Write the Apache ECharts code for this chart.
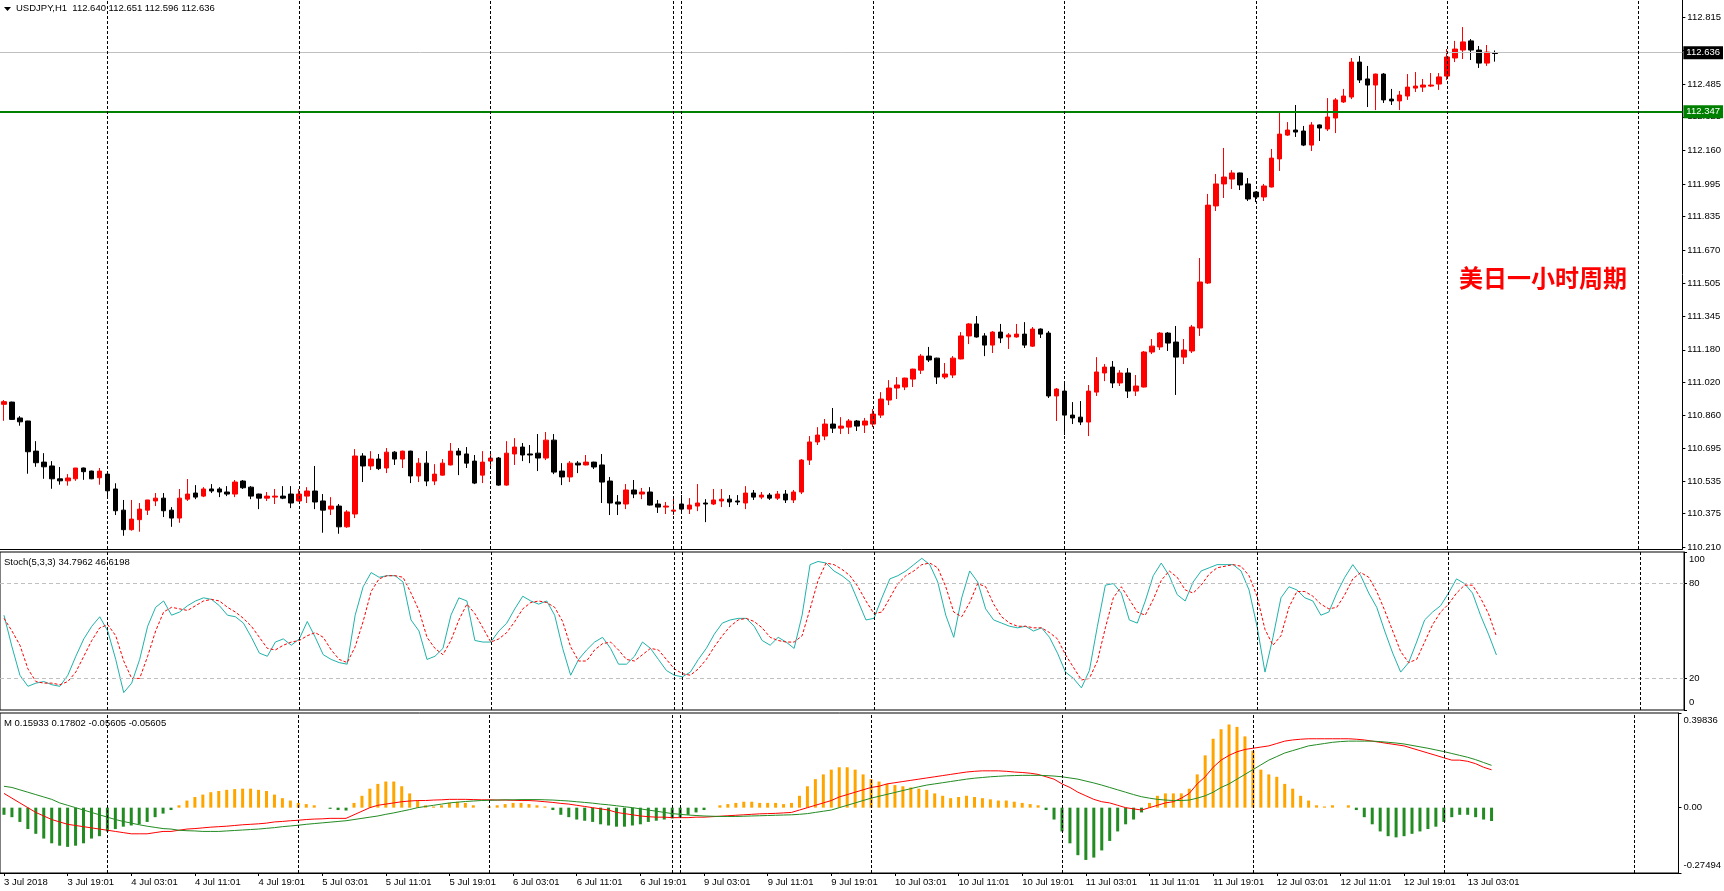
<!DOCTYPE html>
<html>
<head>
<meta charset="utf-8">
<script src="https://cdn.jsdelivr.net/npm/echarts/dist/echarts.min.js"></script>
<style>
html, body { margin: 0; padding: 0; background: #fff; }
#chart { width: 1724px; height: 891px; }
</style>
</head>
<body>
<div id="chart"></div>
<script>
// USDJPY H1, 3 Jul 2018 11:01 .. 13 Jul 2018 04:01 (188 bars)
const timeLabels = ['3 Jul 2018', '3 Jul 19:01', '4 Jul 03:01', '4 Jul 11:01', '4 Jul 19:01', '5 Jul 03:01',
    '5 Jul 11:01', '5 Jul 19:01', '6 Jul 03:01', '6 Jul 11:01', '6 Jul 19:01', '9 Jul 03:01', '9 Jul 11:01',
    '9 Jul 19:01', '10 Jul 03:01', '10 Jul 11:01', '10 Jul 19:01', '11 Jul 03:01', '11 Jul 11:01',
    '11 Jul 19:01', '12 Jul 03:01', '12 Jul 11:01', '12 Jul 19:01', '13 Jul 03:01'];
const labelStep = 8;
const daySeparators = [13, 37, 61, 84, 85, 109, 133, 157, 181, 205];
const slotCount = 211;

const opens = [
    110.912, 110.923, 110.845, 110.830, 110.682, 110.628, 110.609, 110.546, 110.536, 110.546,
    110.599, 110.584, 110.551, 110.569, 110.496, 110.392, 110.296, 110.345, 110.392, 110.437,
    110.451, 110.392, 110.353, 110.446, 110.476, 110.461, 110.496, 110.496, 110.481, 110.471,
    110.535, 110.505, 110.471, 110.451, 110.456, 110.461, 110.471, 110.437, 110.461, 110.486,
    110.437, 110.397, 110.412, 110.310, 110.373, 110.658, 110.609, 110.643, 110.599, 110.677,
    110.643, 110.682, 110.560, 110.623, 110.535, 110.564, 110.614, 110.682, 110.668, 110.633,
    110.564, 110.633, 110.648, 110.515, 110.668, 110.702, 110.668, 110.672, 110.648, 110.736,
    110.584, 110.555, 110.623, 110.614, 110.628, 110.614, 110.535, 110.432, 110.422, 110.491,
    110.471, 110.481, 110.422, 110.407, 110.387, 110.422, 110.397, 110.412, 110.427, 110.422,
    110.437, 110.446, 110.437, 110.427, 110.476, 110.456, 110.466, 110.451, 110.471, 110.442,
    110.481, 110.638, 110.727, 110.756, 110.815, 110.795, 110.800, 110.830, 110.810, 110.815,
    110.859, 110.933, 110.992, 110.997, 111.036, 111.080, 111.149, 111.139, 111.046, 111.056,
    111.135, 111.248, 111.307, 111.248, 111.203, 111.267, 111.243, 111.243, 111.257, 111.198,
    111.282, 111.262, 110.953, 110.977, 110.859, 110.849, 110.825, 110.972, 111.066, 111.095,
    111.017, 111.066, 110.977, 110.997, 111.169, 111.194, 111.262, 111.218, 111.144, 111.174,
    111.287, 111.508, 111.887, 111.995, 112.019, 112.049, 111.995, 111.955, 111.931, 111.980,
    112.118, 112.235, 112.260, 112.255, 112.186, 112.285, 112.265, 112.319, 112.398, 112.422,
    112.594, 112.511, 112.481, 112.535, 112.412, 112.403, 112.427, 112.466, 112.471, 112.476,
    112.486, 112.525, 112.614, 112.653, 112.698, 112.653, 112.589, 112.640
];
const highs = [
    110.933, 110.925, 110.854, 110.831, 110.731, 110.672, 110.633, 110.604, 110.569, 110.599,
    110.601, 110.586, 110.599, 110.581, 110.524, 110.442, 110.442, 110.427, 110.442, 110.476,
    110.476, 110.407, 110.496, 110.545, 110.515, 110.505, 110.520, 110.505, 110.510, 110.540,
    110.540, 110.510, 110.473, 110.481, 110.496, 110.510, 110.510, 110.496, 110.505, 110.609,
    110.471, 110.456, 110.422, 110.392, 110.692, 110.672, 110.682, 110.668, 110.697, 110.682,
    110.684, 110.684, 110.648, 110.682, 110.618, 110.643, 110.722, 110.697, 110.702, 110.663,
    110.682, 110.677, 110.653, 110.731, 110.746, 110.722, 110.712, 110.766, 110.776, 110.766,
    110.623, 110.633, 110.633, 110.663, 110.630, 110.668, 110.555, 110.466, 110.520, 110.540,
    110.501, 110.505, 110.442, 110.432, 110.461, 110.466, 110.451, 110.520, 110.446, 110.496,
    110.496, 110.466, 110.466, 110.510, 110.491, 110.481, 110.476, 110.486, 110.491, 110.491,
    110.643, 110.756, 110.800, 110.840, 110.894, 110.849, 110.840, 110.835, 110.845, 110.889,
    110.972, 111.031, 111.046, 111.043, 111.087, 111.159, 111.194, 111.141, 111.115, 111.149,
    111.267, 111.311, 111.346, 111.262, 111.272, 111.307, 111.262, 111.307, 111.316, 111.292,
    111.285, 111.272, 110.992, 111.017, 110.923, 110.928, 111.007, 111.144, 111.110, 111.125,
    111.080, 111.090, 111.056, 111.174, 111.233, 111.267, 111.267, 111.297, 111.233, 111.302,
    111.631, 111.946, 112.044, 112.172, 112.063, 112.051, 112.024, 111.958, 111.995, 112.167,
    112.349, 112.299, 112.383, 112.280, 112.299, 112.287, 112.417, 112.417, 112.462, 112.614,
    112.624, 112.575, 112.537, 112.540, 112.462, 112.452, 112.535, 112.545, 112.511, 112.540,
    112.540, 112.658, 112.698, 112.766, 112.707, 112.673, 112.678, 112.651
];
const lows = [
    110.831, 110.835, 110.807, 110.571, 110.605, 110.546, 110.497, 110.517, 110.512, 110.536,
    110.541, 110.544, 110.517, 110.461, 110.368, 110.266, 110.291, 110.286, 110.368, 110.412,
    110.358, 110.310, 110.330, 110.437, 110.446, 110.456, 110.476, 110.456, 110.461, 110.456,
    110.496, 110.446, 110.397, 110.437, 110.422, 110.446, 110.402, 110.435, 110.427, 110.397,
    110.281, 110.368, 110.276, 110.305, 110.353, 110.530, 110.589, 110.589, 110.574, 110.614,
    110.599, 110.525, 110.530, 110.510, 110.515, 110.562, 110.612, 110.564, 110.599, 110.520,
    110.525, 110.609, 110.512, 110.512, 110.614, 110.633, 110.623, 110.584, 110.638, 110.569,
    110.515, 110.530, 110.574, 110.612, 110.594, 110.427, 110.368, 110.368, 110.397, 110.451,
    110.446, 110.415, 110.378, 110.373, 110.368, 110.373, 110.373, 110.387, 110.333, 110.417,
    110.407, 110.407, 110.417, 110.397, 110.442, 110.446, 110.442, 110.442, 110.427, 110.427,
    110.471, 110.614, 110.712, 110.736, 110.771, 110.766, 110.766, 110.781, 110.771, 110.800,
    110.845, 110.908, 110.938, 110.982, 110.997, 111.061, 111.120, 111.012, 111.036, 111.041,
    111.133, 111.208, 111.240, 111.149, 111.164, 111.213, 111.184, 111.240, 111.189, 111.194,
    111.238, 110.943, 110.830, 110.761, 110.815, 110.810, 110.756, 110.953, 111.026, 110.992,
    111.002, 110.943, 110.953, 110.995, 111.159, 111.179, 111.174, 110.958, 111.110, 111.164,
    111.248, 111.503, 111.862, 111.926, 111.970, 111.965, 111.911, 111.906, 111.911, 111.978,
    112.059, 112.231, 112.226, 112.181, 112.157, 112.206, 112.255, 112.245, 112.393, 112.412,
    112.491, 112.373, 112.358, 112.393, 112.383, 112.358, 112.408, 112.447, 112.447, 112.471,
    112.457, 112.506, 112.594, 112.609, 112.604, 112.565, 112.575, 112.596
];
const closes = [
    110.925, 110.838, 110.826, 110.679, 110.625, 110.605, 110.546, 110.536, 110.550, 110.599,
    110.581, 110.546, 110.584, 110.487, 110.389, 110.296, 110.348, 110.397, 110.442, 110.451,
    110.389, 110.353, 110.451, 110.471, 110.456, 110.496, 110.486, 110.481, 110.471, 110.530,
    110.502, 110.461, 110.451, 110.461, 110.461, 110.451, 110.427, 110.471, 110.486, 110.432,
    110.392, 110.412, 110.310, 110.383, 110.658, 110.609, 110.643, 110.596, 110.677, 110.643,
    110.682, 110.560, 110.623, 110.535, 110.569, 110.623, 110.682, 110.663, 110.623, 110.525,
    110.628, 110.648, 110.515, 110.672, 110.702, 110.663, 110.663, 110.648, 110.736, 110.579,
    110.555, 110.623, 110.614, 110.628, 110.604, 110.530, 110.427, 110.422, 110.491, 110.471,
    110.481, 110.417, 110.407, 110.412, 110.392, 110.397, 110.417, 110.427, 110.422, 110.442,
    110.446, 110.432, 110.432, 110.476, 110.456, 110.466, 110.451, 110.471, 110.442, 110.481,
    110.638, 110.727, 110.761, 110.815, 110.795, 110.805, 110.830, 110.805, 110.830, 110.864,
    110.938, 110.992, 111.007, 111.041, 111.085, 111.149, 111.130, 111.046, 111.061, 111.139,
    111.248, 111.307, 111.243, 111.203, 111.267, 111.238, 111.253, 111.257, 111.203, 111.282,
    111.257, 110.953, 110.987, 110.859, 110.845, 110.825, 110.977, 111.071, 111.095, 111.017,
    111.066, 110.977, 111.002, 111.169, 111.198, 111.262, 111.213, 111.144, 111.179, 111.292,
    111.513, 111.891, 111.995, 112.029, 112.049, 111.990, 111.921, 111.931, 111.985, 112.122,
    112.240, 112.260, 112.250, 112.186, 112.285, 112.270, 112.324, 112.408, 112.427, 112.594,
    112.506, 112.481, 112.535, 112.408, 112.403, 112.432, 112.471, 112.476, 112.481, 112.481,
    112.521, 112.619, 112.658, 112.693, 112.653, 112.589, 112.643, 112.636
];

const priceTicks = [110.210, 110.375, 110.535, 110.695, 110.860, 111.020, 111.180, 111.345, 111.505,
    111.670, 111.835, 111.995, 112.160, 112.325, 112.485, 112.650, 112.815];
const levelPrice = 112.347;
const lastPrice = 112.636;

// Stochastic (5,3,3): main %K and signal %D
const stochK = [
    60, 40, 22, 15, 17, 18, 16, 15, 22, 34, 45, 53, 59, 50, 32, 11, 17, 32, 53, 65,
    69, 60, 62, 66, 69, 71, 70, 66, 60, 59, 55, 46, 36, 34, 43, 45, 41, 45, 56, 46,
    35, 32, 30, 29, 60, 78, 87, 84, 85, 85, 81, 57, 50, 32, 34, 39, 60, 71, 69, 44,
    43, 43, 50, 55, 64, 72, 69, 67, 69, 60, 39, 22, 32, 38, 43, 46, 39, 29, 29, 34,
    43, 39, 32, 25, 22, 21, 24, 32, 39, 48, 55, 57, 58, 58, 53, 44, 41, 46, 43, 39,
    60, 92, 94, 93, 88, 85, 81, 69, 57, 58, 71, 83, 85, 88, 92, 96, 92, 81, 60, 46,
    71, 88, 81, 64, 57, 55, 53, 52, 53, 50, 52, 46, 36, 24, 20, 14, 25, 53, 79, 80,
    74, 57, 55, 69, 85, 93, 85, 73, 69, 81, 88, 90, 92, 92, 92, 88, 76, 53, 24, 46,
    71, 78, 76, 71, 69, 60, 62, 74, 84, 92, 85, 74, 65, 50, 36, 24, 30, 43, 57, 62,
    66, 74, 83, 80, 74, 60, 48, 34.8
];
const stochD = [
    58, 50, 41, 26, 18, 17, 17, 16, 18, 24, 34, 44, 52, 54, 47, 31, 20, 20, 34, 50,
    62, 65, 64, 63, 66, 69, 70, 69, 65, 62, 58, 53, 46, 39, 38, 41, 43, 44, 47, 49,
    46, 38, 32, 30, 40, 56, 75, 83, 85, 85, 84, 74, 63, 46, 39, 35, 44, 57, 67, 61,
    52, 43, 45, 49, 56, 64, 68, 69, 68, 65, 56, 40, 31, 31, 38, 42, 43, 38, 32, 31,
    35, 39, 38, 32, 26, 23, 22, 26, 32, 40, 47, 53, 57, 58, 56, 52, 46, 44, 43, 43,
    47, 64, 82, 93, 92, 89, 85, 78, 69, 61, 62, 71, 80, 85, 88, 92, 93, 90, 78, 62,
    59, 68, 80, 78, 67, 59, 55, 53, 53, 52, 52, 49, 45, 35, 27, 19, 20, 31, 52, 71,
    78, 70, 62, 60, 70, 82, 88, 84, 76, 74, 79, 86, 90, 91, 92, 91, 85, 72, 51, 41,
    47, 65, 75, 75, 72, 67, 64, 65, 73, 83, 87, 84, 75, 63, 50, 37, 30, 32, 43, 54,
    62, 67, 74, 79, 79, 71, 61, 46.6
];

// MACD: histogram, main line (red), signal line (green)
const macdHist = [
    -0.03, -0.04, -0.06, -0.09, -0.11, -0.13, -0.15, -0.16, -0.165, -0.16,
    -0.15, -0.13, -0.12, -0.10, -0.09, -0.08, -0.075, -0.07, -0.06, -0.04,
    -0.025, -0.01, 0.01, 0.03, 0.045, 0.055, 0.065, 0.07, 0.075, 0.078,
    0.08, 0.08, 0.075, 0.07, 0.055, 0.04, 0.03, 0.02, 0.015, 0.01,
    0.0, -0.005, -0.01, -0.012, 0.02, 0.05, 0.08, 0.10, 0.11, 0.11,
    0.09, 0.06, 0.03, 0.01, 0.005, 0.01, 0.02, 0.025, 0.02, 0.01,
    0.0, 0.005, 0.01, 0.015, 0.02, 0.02, 0.015, 0.01, 0.005, -0.01,
    -0.03, -0.04, -0.05, -0.055, -0.06, -0.07, -0.075, -0.08, -0.08, -0.075,
    -0.07, -0.06, -0.055, -0.05, -0.045, -0.04, -0.03, -0.02, -0.01, 0.0,
    0.01, 0.015, 0.02, 0.025, 0.025, 0.02, 0.02, 0.02, 0.015, 0.02,
    0.05, 0.09, 0.12, 0.14, 0.16, 0.17, 0.17, 0.16, 0.14, 0.12,
    0.11, 0.10, 0.095, 0.09, 0.085, 0.08, 0.075, 0.06, 0.05, 0.04,
    0.045, 0.05, 0.045, 0.04, 0.035, 0.03, 0.03, 0.025, 0.02, 0.015,
    0.01, -0.01, -0.05, -0.10, -0.15, -0.20, -0.22, -0.21, -0.18, -0.14,
    -0.10, -0.07, -0.05, -0.02, 0.02, 0.05, 0.06, 0.06, 0.06, 0.08,
    0.14, 0.22, 0.29, 0.33, 0.35, 0.34, 0.30, 0.24, 0.16, 0.14,
    0.13, 0.10, 0.08, 0.05, 0.03, 0.01, 0.005, 0.01, 0.0, 0.01,
    -0.01, -0.04, -0.07, -0.10, -0.12, -0.125, -0.12, -0.11, -0.10, -0.09,
    -0.08, -0.06, -0.04, -0.03, -0.03, -0.04, -0.05, -0.05605
];
const macdMain = [
    0.06, 0.04, 0.02, 0.0, -0.02, -0.035, -0.05, -0.06, -0.07, -0.075,
    -0.08, -0.085, -0.09, -0.095, -0.10, -0.105, -0.11, -0.11, -0.11, -0.105,
    -0.10, -0.10, -0.095, -0.09, -0.088, -0.085, -0.082, -0.08, -0.078, -0.075,
    -0.072, -0.07, -0.068, -0.065, -0.06, -0.058, -0.055, -0.053, -0.05, -0.048,
    -0.047, -0.045, -0.045, -0.045, -0.03, -0.015, 0.0, 0.01, 0.015, 0.02,
    0.025, 0.028, 0.03, 0.03, 0.032, 0.033, 0.035, 0.035, 0.035, 0.034,
    0.033, 0.033, 0.032, 0.032, 0.031, 0.03, 0.03, 0.028, 0.025, 0.022,
    0.018, 0.015, 0.01, 0.005, 0.0, -0.005, -0.01, -0.02, -0.025, -0.03,
    -0.035, -0.038, -0.04, -0.04, -0.042, -0.042, -0.042, -0.04, -0.04, -0.038,
    -0.036, -0.034, -0.032, -0.03, -0.028, -0.026, -0.025, -0.024, -0.022, -0.02,
    -0.01, 0.0, 0.01, 0.02, 0.03, 0.045, 0.055, 0.065, 0.075, 0.085,
    0.09, 0.10, 0.105, 0.11, 0.115, 0.12, 0.125, 0.13, 0.135, 0.14,
    0.145, 0.15, 0.153, 0.155, 0.155, 0.155, 0.153, 0.15, 0.148, 0.145,
    0.14, 0.13, 0.12, 0.10, 0.085, 0.065, 0.05, 0.035, 0.025, 0.02,
    0.01, 0.0, -0.005, -0.01, 0.0, 0.01, 0.02, 0.025, 0.04, 0.06,
    0.10, 0.13, 0.17, 0.20, 0.22, 0.235, 0.245, 0.25, 0.255, 0.26,
    0.27, 0.28, 0.285, 0.288, 0.29, 0.29, 0.29, 0.29, 0.29, 0.29,
    0.288, 0.285, 0.28, 0.275, 0.27, 0.265, 0.26, 0.25, 0.24, 0.23,
    0.22, 0.21, 0.20, 0.20, 0.195, 0.185, 0.17, 0.15933
];
const macdSignal = [
    0.09, 0.085, 0.075, 0.065, 0.055, 0.045, 0.035, 0.02, 0.01, 0.0,
    -0.01, -0.02, -0.03, -0.04, -0.05, -0.058, -0.065, -0.072, -0.078, -0.083,
    -0.088, -0.09, -0.095, -0.097, -0.098, -0.10, -0.10, -0.10, -0.098, -0.096,
    -0.094, -0.092, -0.09, -0.087, -0.084, -0.08, -0.077, -0.074, -0.07, -0.067,
    -0.064, -0.061, -0.058, -0.055, -0.05, -0.045, -0.04, -0.035, -0.028, -0.022,
    -0.015, -0.008, 0.0, 0.005, 0.01, 0.015, 0.02, 0.023, 0.026, 0.028,
    0.03, 0.031, 0.032, 0.033, 0.033, 0.034, 0.034, 0.034, 0.033, 0.032,
    0.03, 0.028, 0.025, 0.022, 0.019, 0.015, 0.012, 0.008, 0.004, 0.0,
    -0.005, -0.01, -0.015, -0.02, -0.025, -0.028, -0.031, -0.033, -0.035, -0.036,
    -0.037, -0.037, -0.037, -0.036, -0.035, -0.034, -0.033, -0.032, -0.031, -0.03,
    -0.028, -0.025, -0.02, -0.015, -0.01, 0.0, 0.01, 0.02, 0.03, 0.04,
    0.048, 0.056, 0.064, 0.072, 0.08, 0.088, 0.095, 0.10, 0.105, 0.11,
    0.115, 0.12, 0.124, 0.127, 0.13, 0.132, 0.134, 0.135, 0.136, 0.136,
    0.136, 0.135, 0.133, 0.13, 0.125, 0.12, 0.112, 0.104, 0.095, 0.085,
    0.075, 0.065, 0.055, 0.046, 0.04, 0.035, 0.032, 0.03, 0.03, 0.032,
    0.04, 0.05, 0.065, 0.085, 0.10, 0.12, 0.14, 0.16, 0.18, 0.20,
    0.215, 0.23, 0.24, 0.25, 0.26, 0.265, 0.27, 0.275, 0.278, 0.28,
    0.28, 0.28, 0.28, 0.278, 0.275, 0.272, 0.268, 0.262, 0.256, 0.25,
    0.243, 0.236, 0.228, 0.22, 0.212, 0.202, 0.19, 0.17802
];

const FONT = 'Liberation Sans';
const chart = echarts.init(document.getElementById('chart'));

const slots = Array.from({ length: slotCount }, (_, i) => String(i));
const candleData = opens.map((o, i) => [o, closes[i], lows[i], highs[i]]);
const separatorStyle = { color: '#000', width: 1, type: [3, 2] };
const separatorData = daySeparators.map(i => ({ xAxis: i, lineStyle: separatorStyle }));

function edgeLabel(value, text, min, max) {
    if (value === max) return '{top|' + text + '}';
    if (value === min) return '{bot|' + text + '}';
    return text;
}
const edgeRich = {
    top: { padding: [14, 0, 0, 0], fontFamily: FONT, fontSize: 9.5, color: '#000' },
    bot: { padding: [0, 0, 16, 0], fontFamily: FONT, fontSize: 9.5, color: '#000' }
};

const option = {
    animation: false,
    backgroundColor: '#fff',
    textStyle: { fontFamily: FONT },
    grid: [
        { left: -4, right: 40, top: 0, height: 549 },
        { left: -4, right: 40, top: 552, height: 158, show: true, borderColor: '#000', borderWidth: 1 },
        { left: -4, right: 40, top: 713, height: 160, show: true, borderColor: '#000', borderWidth: 1 }
    ],
    xAxis: [
        {
            type: 'category', gridIndex: 0, data: slots, boundaryGap: true,
            axisLine: { show: true, onZero: false, lineStyle: { color: '#000' } },
            axisTick: { show: false }, axisLabel: { show: false }, splitLine: { show: false }
        },
        {
            type: 'category', gridIndex: 1, data: slots, boundaryGap: true,
            axisLine: { show: false, onZero: false }, axisTick: { show: false }, axisLabel: { show: false }
        },
        {
            type: 'category', gridIndex: 2, data: slots, boundaryGap: true,
            axisLine: { show: true, onZero: false, lineStyle: { color: '#000' } },
            axisTick: {
                show: true, length: 3, alignWithLabel: true, lineStyle: { color: '#000' },
                interval: idx => idx % labelStep === 0 && idx / labelStep < timeLabels.length
            },
            axisLabel: {
                show: true, align: 'left', margin: 4, fontSize: 9.5, color: '#000', fontFamily: FONT,
                interval: idx => idx % labelStep === 0 && idx / labelStep < timeLabels.length,
                formatter: (v, idx) => timeLabels[idx / labelStep] || ''
            }
        }
    ],
    yAxis: [
        {
            type: 'value', gridIndex: 0, position: 'right', min: 110.201, max: 112.899, scale: true,
            axisLine: { show: true, lineStyle: { color: '#000' } },
            axisTick: { show: true, length: 3, customValues: priceTicks, lineStyle: { color: '#000' } },
            axisLabel: {
                customValues: priceTicks, margin: 5, fontSize: 9.5, color: '#000', fontFamily: FONT,
                formatter: v => v.toFixed(3)
            },
            splitLine: { show: false }
        },
        {
            type: 'value', gridIndex: 1, position: 'right', min: 0, max: 100,
            axisLine: { show: true, lineStyle: { color: '#000' } },
            axisTick: { show: true, length: 3, customValues: [0, 20, 80, 100], lineStyle: { color: '#000' } },
            axisLabel: {
                customValues: [0, 20, 80, 100], margin: 5, fontSize: 9.5, color: '#000', fontFamily: FONT,
                formatter: v => edgeLabel(v, String(v), 0, 100), rich: edgeRich
            },
            splitLine: { show: false }
        },
        {
            type: 'value', gridIndex: 2, position: 'right', min: -0.27494, max: 0.39836,
            axisLine: { show: true, lineStyle: { color: '#000' } },
            axisTick: { show: true, length: 3, customValues: [-0.27494, 0, 0.39836], lineStyle: { color: '#000' } },
            axisLabel: {
                customValues: [-0.27494, 0, 0.39836], margin: 5, fontSize: 9.5, color: '#000', fontFamily: FONT,
                formatter: v => edgeLabel(v, v === 0 ? '0.00' : v.toFixed(5), -0.27494, 0.39836), rich: edgeRich
            },
            splitLine: { show: false }
        }
    ],
    graphic: [
        { type: 'polygon', shape: { points: [[4, 7], [11, 7], [7.5, 11]] }, style: { fill: '#000' } },
        {
            type: 'text', left: 16, top: 3,
            style: { text: 'USDJPY,H1  112.640 112.651 112.596 112.636', font: '9.5px "Liberation Sans"', fill: '#000' }
        },
        {
            type: 'text', left: 4, top: 557,
            style: { text: 'Stoch(5,3,3) 34.7962 46.6198', font: '9.5px "Liberation Sans"', fill: '#000' }
        },
        {
            type: 'text', left: 4, top: 718,
            style: { text: 'M 0.15933 0.17802 -0.05605 -0.05605', font: '9.5px "Liberation Sans"', fill: '#000' }
        },
        {
            type: 'text', left: 1459, top: 266,
            style: { text: '美日一小时周期', font: 'bold 24px "Noto Sans CJK SC"', fill: '#ff0000' }
        }
    ],
    series: [
        {
            name: 'USDJPY', type: 'candlestick', xAxisIndex: 0, yAxisIndex: 0,
            data: candleData, barWidth: 5,
            itemStyle: { color: '#ff0000', color0: '#000000', borderColor: '#ff0000', borderColor0: '#000000', borderWidth: 1 },
            markLine: {
                silent: true, symbol: 'none', animation: false,
                data: [
                    {
                        yAxis: lastPrice, lineStyle: { color: '#c0c0c0', width: 1, type: 'solid' },
                        label: {
                            show: true, position: 'end', distance: 1, formatter: lastPrice.toFixed(3),
                            color: '#fff', backgroundColor: '#000', padding: [2, 3, 1, 3], fontSize: 9.5, fontFamily: FONT
                        }
                    },
                    {
                        yAxis: levelPrice, lineStyle: { color: '#008000', width: 2, type: 'solid' },
                        label: {
                            show: true, position: 'end', distance: 1, formatter: levelPrice.toFixed(3),
                            color: '#fff', backgroundColor: '#008000', padding: [2, 3, 1, 3], fontSize: 9.5, fontFamily: FONT
                        }
                    }
                ].concat(separatorData.map(d => Object.assign({ label: { show: false } }, d)))
            }
        },
        {
            name: 'Stoch', type: 'line', xAxisIndex: 1, yAxisIndex: 1, data: stochK,
            symbol: 'none', lineStyle: { color: '#20b2aa', width: 1 },
            markLine: {
                silent: true, symbol: 'none', label: { show: false },
                data: [
                    { yAxis: 80, lineStyle: { color: '#c0c0c0', width: 1, type: [4, 3] } },
                    { yAxis: 20, lineStyle: { color: '#c0c0c0', width: 1, type: [4, 3] } }
                ].concat(separatorData)
            }
        },
        {
            name: 'Signal', type: 'line', xAxisIndex: 1, yAxisIndex: 1, data: stochD,
            symbol: 'none', lineStyle: { color: '#ff0000', width: 1, type: [3, 2] }
        },
        {
            name: 'MACD hist', type: 'bar', xAxisIndex: 2, yAxisIndex: 2, data: macdHist, barWidth: 3,
            itemStyle: { color: p => (p.value >= 0 ? '#ffa500' : '#228b22') },
            markLine: { silent: true, symbol: 'none', label: { show: false }, data: separatorData }
        },
        {
            name: 'MACD', type: 'line', xAxisIndex: 2, yAxisIndex: 2, data: macdMain,
            symbol: 'none', lineStyle: { color: '#ff0000', width: 1 }
        },
        {
            name: 'MACD signal', type: 'line', xAxisIndex: 2, yAxisIndex: 2, data: macdSignal,
            symbol: 'none', lineStyle: { color: '#228b22', width: 1 }
        }
    ]
};

chart.setOption(option);
</script>
</body>
</html>
